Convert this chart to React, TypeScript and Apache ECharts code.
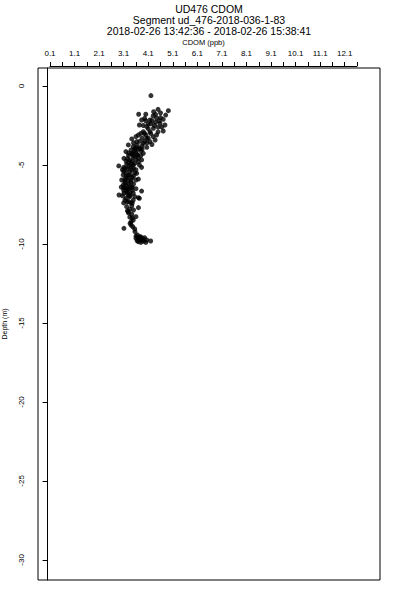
import React, { useEffect, useRef } from "react";
import * as echarts from "echarts";

const titleLines: string[] = [
  "UD476 CDOM",
  "Segment ud_476-2018-036-1-83",
  "2018-02-26 13:42:36 - 2018-02-26 15:38:41",
];
const xAxisName = "CDOM (ppb)";
const yAxisName = "Depth (m)";

const xTickValues: number[] = [
  0.1, 0.6, 1.1, 1.6, 2.1, 2.6, 3.1, 3.6, 4.1, 4.6, 5.1, 5.6, 6.1, 6.6, 7.1, 7.6,
  8.1, 8.6, 9.1, 9.6, 10.1, 10.6, 11.1, 11.6, 12.1, 12.6,
];
const xLabelValues: number[] = [0.1, 1.1, 2.1, 3.1, 4.1, 5.1, 6.1, 7.1, 8.1, 9.1, 10.1, 11.1, 12.1];
const yTickValues: number[] = [0, -5, -10, -15, -20, -25, -30];

const cdom: number[] = [
  4.21, 3.71, 4.0, 4.32, 4.5, 4.92, 4.81, 4.71, 3.83, 4.17, 4.44, 4.58, 4.78, 3.74, 4.04, 4.31,
  4.71, 4.44, 4.38, 4.17, 3.9, 3.7, 4.04, 3.43, 3.63, 3.9, 4.17, 3.29, 3.49, 3.76, 4.04, 3.19,
  3.43, 3.66, 3.9, 3.11, 3.36, 3.6, 3.83, 3.22, 3.49, 3.74, 2.9, 3.15, 3.43, 3.83, 3.08, 3.36,
  3.63, 3.02, 3.29, 3.7, 3.08, 3.36, 3.83, 2.91, 3.22, 3.49, 3.7,
  3.19, 3.43, 3.11, 3.36, 3.49, 3.74, 3.15, 3.22, 3.43, 3.7, 3.29, 3.43, 3.6, 3.49, 3.36, 3.11,
  3.47, 3.56, 3.66, 3.6, 3.74, 3.83, 3.9, 4.04, 4.2, 3.7,
  3.5, 3.6, 3.7, 3.55, 3.45, 3.8, 3.3, 3.5, 3.7, 3.4, 3.6, 3.8, 4.0, 4.1, 4.2, 4.4, 4.6, 4.0,
  4.3, 3.9, 4.5, 4.2, 3.95, 3.85,
  3.3, 3.35, 3.2, 3.45, 3.25, 3.15, 3.4, 3.2, 3.3, 3.1, 3.45, 3.25, 3.5, 3.55, 3.5, 3.1, 3.0,
  3.35, 3.2, 3.4, 3.3, 3.1,
  3.25, 3.35, 3.4, 3.6, 3.75, 3.9, 3.8, 3.65, 4.0,
];
const depth: number[] = [
  -0.61, -1.79, -1.79, -1.63, -1.48, -1.56, -1.84, -2.11, -2.15, -2.15, -2.04, -2.36, -2.47,
  -2.47, -2.57, -2.68, -2.85, -3.1, -3.42, -2.89, -2.89, -3.1, -3.31, -3.35, -3.52, -3.63,
  -3.52, -3.73, -3.84, -3.94, -3.88, -4.15, -4.26, -4.37, -4.26, -4.58, -4.68, -4.64, -4.68,
  -4.94, -5.0, -5.0, -5.06, -5.21, -5.32, -5.15, -5.63, -5.63, -5.53, -5.95, -5.99, -5.89,
  -6.27, -6.37, -6.65, -6.9, -6.69, -6.79, -7.07,
  -6.48, -6.44, -6.79, -6.9, -7.22, -7.11, -7.22, -7.64, -7.58, -7.7, -7.95, -8.12, -8.27,
  -8.48, -8.69, -9.01, -8.91, -9.22, -9.43, -9.64, -9.7, -9.64, -9.81, -9.75, -9.81, -9.85,
  -3.6, -3.9, -4.0, -4.1, -4.3, -4.4, -4.4, -4.5, -4.8, -4.9, -3.2, -3.0, -3.1, -2.7, -2.4,
  -2.3, -2.0, -2.2, -1.9, -2.5, -2.6, -3.0, -3.5, -3.8,
  -5.1, -5.4, -5.5, -5.8, -5.8, -6.0, -6.1, -6.3, -6.5, -6.6, -6.6, -6.8, -5.2, -5.5, -6.2,
  -5.4, -6.4, -7.0, -7.1, -7.4, -7.3, -7.4,
  -7.9, -8.3, -8.6, -9.5, -9.55, -9.7, -9.9, -9.8, -9.9,
];

// additional samples read from the dense core of the cloud: [CDOM, depth]
const coreSamples: number[][] = [
  [4.6, -1.7], [4.4, -1.8], [4.55, -2.2], [4.35, -2.5], [4.25, -2.2], [4.1, -2.4], [3.95, -2.05],
  [4.65, -2.6], [4.5, -2.9], [4.3, -3.2], [4.1, -3.3], [3.95, -3.0], [3.85, -3.3], [4.25, -3.7],
  [4.05, -3.6], [3.75, -3.5], [3.65, -3.75], [3.55, -4.0], [3.4, -4.05], [3.6, -4.2], [3.8, -4.1],
  [3.3, -4.25], [3.5, -4.4], [3.7, -4.55], [3.25, -4.6], [3.45, -4.75], [3.55, -4.9], [3.3, -4.85],
  [3.65, -4.35], [3.85, -4.0], [3.2, -4.75], [3.25, -5.25], [3.4, -5.1], [3.6, -5.3], [3.2, -5.7],
  [3.3, -5.65], [3.5, -5.7], [3.6, -5.95], [3.15, -6.15], [3.3, -6.2], [3.45, -6.4], [3.6, -6.5],
  [3.1, -6.45], [3.25, -6.55], [3.35, -6.75], [3.05, -6.95], [3.3, -6.95], [3.55, -7.0],
  [3.25, -7.35], [3.45, -7.4], [3.15, -5.9], [3.05, -5.3], [3.4, -5.95], [3.1, -5.15],
  [3.35, -7.8], [3.5, -7.85], [3.3, -8.05], [3.45, -8.35], [3.4, -8.8], [3.55, -9.05],
  [3.7, -9.6], [3.85, -9.75], [3.95, -9.6], [3.8, -9.55],
];

const FONT = "Liberation Sans, Arial, Helvetica, sans-serif";

export default function App() {
  const ref = useRef<HTMLDivElement>(null);
  useEffect(() => {
    if (!ref.current) return;
    const chart = echarts.init(ref.current, null, { renderer: "svg" });
    const points = cdom.map((c, i) => [c, depth[i]]).concat(coreSamples);
    chart.setOption({
      animation: false,
      backgroundColor: "#fff",
      title: {
        text: titleLines.join("\n"),
        left: 209,
        textAlign: "center",
        top: 4,
        padding: 0,
        textStyle: {
          fontFamily: FONT,
          fontSize: 10.5,
          lineHeight: 10.8,
          fontWeight: "normal",
          color: "#000",
        },
      },
      grid: [
        {
          left: 38,
          right: 20,
          top: 68,
          bottom: 20,
          containLabel: false,
          outerBoundsMode: "none",
          show: true,
          borderColor: "#000",
          borderWidth: 1,
          backgroundColor: "transparent",
        },
        {
          left: 50,
          width: 307,
          top: 65,
          height: 1,
          containLabel: false,
          outerBoundsMode: "none",
          show: false,
        },
      ],
      xAxis: [
        { gridIndex: 0, type: "value", min: -0.39, max: 13.54, show: false },
        {
          gridIndex: 1,
          type: "value",
          position: "top",
          min: 0.1,
          max: 12.6,
          name: xAxisName,
          nameLocation: "middle",
          nameGap: 19,
          nameTextStyle: { fontFamily: FONT, fontSize: 7.5, color: "#000" },
          axisLine: { show: true, lineStyle: { color: "#000", width: 1 } },
          axisTick: {
            show: true,
            length: 4,
            customValues: xTickValues,
            lineStyle: { color: "#000" },
          },
          axisLabel: {
            show: true,
            customValues: xLabelValues,
            margin: 8,
            fontFamily: FONT,
            fontSize: 8,
            color: "#000",
            formatter: (v: number) => v.toFixed(1),
          },
          splitLine: { show: false },
        },
      ],
      yAxis: [
        {
          gridIndex: 0,
          type: "value",
          min: -31.27,
          max: 1.14,
          name: yAxisName,
          nameLocation: "middle",
          nameGap: 30,
          nameTextStyle: { fontFamily: FONT, fontSize: 7, color: "#000" },
          axisLine: { show: true, lineStyle: { color: "#000", width: 1 } },
          axisTick: {
            show: true,
            length: 5,
            customValues: yTickValues,
            lineStyle: { color: "#000" },
          },
          axisLabel: {
            show: true,
            customValues: yTickValues,
            rotate: 90,
            margin: 13,
            fontFamily: FONT,
            fontSize: 8,
            color: "#000",
            formatter: (v: number) => String(v),
          },
          splitLine: { show: false },
        },
        { gridIndex: 1, type: "value", min: 0, max: 1, show: false },
      ],
      series: [
        {
          type: "scatter",
          xAxisIndex: 0,
          yAxisIndex: 0,
          data: points,
          symbol: "circle",
          symbolSize: 5,
          itemStyle: { color: "#000" },
        },
      ],
    });
    return () => chart.dispose();
  }, []);
  return (
    <div
      ref={ref}
      style={{ position: "absolute", left: 0, top: 0, width: 400, height: 600 }}
    />
  );
}
